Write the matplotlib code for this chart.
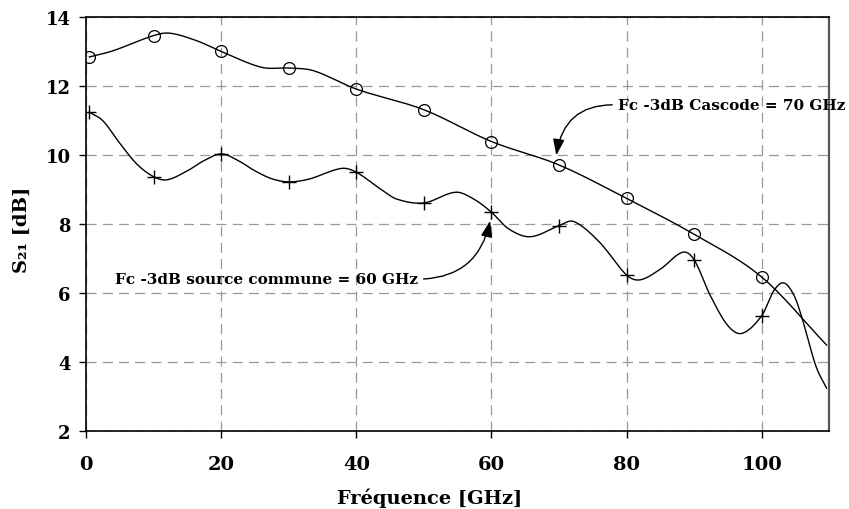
import numpy as np
import matplotlib
matplotlib.use("Agg")
import matplotlib.pyplot as plt

# ---- data ----
# Cascode: curve readings and marker points
freq_cascode_line = [0.5, 4.0, 10, 12.4, 16.4, 20, 26, 30, 33.7, 40, 50, 60,
                     70, 80, 90, 100, 109.6]
s21_cascode_line = [12.85, 13.03, 13.47, 13.54, 13.32, 13.01, 12.55, 12.53, 12.45, 11.92,
                    11.32, 10.40, 9.72, 8.75, 7.71, 6.47, 4.50]
freq_cascode_markers = [0.5, 10, 20, 30, 40, 50, 60, 70, 80, 90, 100]
s21_cascode_markers = [12.85, 13.47, 13.01, 12.53, 11.92, 11.32, 10.40, 9.72, 8.75, 7.71, 6.47]

# Source commune: curve readings and marker points
freq_sc_line = [0.5, 2.5, 5, 7.5, 10, 12, 15, 17.5, 20, 22.5, 25, 27.5, 30, 33, 37.8,
                40, 43.6, 46, 50, 54.7, 57.4, 60, 62.6, 65.8, 70, 72.2,
                76, 80, 82, 85, 88.3, 90, 92.4, 95, 97.1, 100, 101.8, 103.3,
                104.8, 106.0, 108.0, 109.6]
s21_sc_line = [11.25, 11.0, 10.35, 9.75, 9.38, 9.29, 9.55, 9.85, 10.04, 9.85, 9.55, 9.32,
               9.23, 9.31, 9.62, 9.51, 9.02, 8.73, 8.62, 8.93, 8.73, 8.35, 7.86,
               7.64, 7.96, 8.08, 7.48, 6.53, 6.39, 6.70, 7.19, 6.97,
               5.93, 5.06, 4.84, 5.35, 6.08, 6.30, 5.93, 5.26, 3.90, 3.25]
freq_sc_markers = [0.5, 10, 20, 30, 40, 50, 60, 70, 80, 90, 100]
s21_sc_markers = [11.25, 9.38, 10.04, 9.23, 9.51, 8.62, 8.35, 7.96, 6.53, 6.97, 5.35]

x_ticks = [0, 20, 40, 60, 80, 100]
y_ticks = [2, 4, 6, 8, 10, 12, 14]

label_cascode = "Fc -3dB Cascode = 70 GHz"
label_sc = "Fc -3dB source commune = 60 GHz"


def smooth(x, y, n=25):
    """Cardinal (Catmull-Rom style) cubic Hermite curve through the points."""
    x = np.asarray(x, float)
    y = np.asarray(y, float)
    m = np.empty_like(y)
    m[1:-1] = (y[2:] - y[:-2]) / (x[2:] - x[:-2])
    m[0] = (y[1] - y[0]) / (x[1] - x[0])
    m[-1] = (y[-1] - y[-2]) / (x[-1] - x[-2])
    xs, ys = [], []
    for i in range(len(x) - 1):
        h = x[i + 1] - x[i]
        t = np.linspace(0, 1, n, endpoint=False)
        h00 = 2 * t**3 - 3 * t**2 + 1
        h10 = t**3 - 2 * t**2 + t
        h01 = -2 * t**3 + 3 * t**2
        h11 = t**3 - t**2
        xs.append(x[i] + t * h)
        ys.append(h00 * y[i] + h10 * h * m[i] + h01 * y[i + 1] + h11 * h * m[i + 1])
    xs.append([x[-1]])
    ys.append([y[-1]])
    return np.concatenate(xs), np.concatenate(ys)


plt.rcParams['font.family'] = ['DejaVu Serif']
plt.rcParams['font.weight'] = 'bold'

fig = plt.figure(figsize=(8.49, 5.10), dpi=100)
ax = fig.add_axes([86 / 849, 1 - 432.3 / 510, (829.3 - 86) / 849, (432.3 - 18.3) / 510])

xc, yc = smooth(freq_cascode_line, s21_cascode_line)
ax.plot(xc, yc, color='black', lw=1.0, zorder=3)
ax.plot(freq_cascode_markers, s21_cascode_markers, linestyle='none', marker='o',
        markersize=8.5, markerfacecolor='none', markeredgecolor='black',
        markeredgewidth=0.9, zorder=4)

xs, ys = smooth(freq_sc_line, s21_sc_line, n=20)
ax.plot(xs, ys, color='black', lw=1.0, zorder=3)
ax.plot(freq_sc_markers, s21_sc_markers, linestyle='none', marker='+',
        markersize=10, markeredgecolor='black', markeredgewidth=1.0, zorder=4)

ax.set_xlim(0, 110)
ax.set_ylim(2, 14)
ax.set_xticks(x_ticks)
ax.set_yticks(y_ticks)
ax.tick_params(axis='x', direction='out', length=5, width=1, labelsize=14, pad=12)
ax.tick_params(axis='y', direction='out', length=5, width=1, labelsize=13, pad=6)
for lab in ax.get_xticklabels() + ax.get_yticklabels():
    lab.set_fontweight('bold')

ax.grid(True, color='#9a9a9a', linestyle=(0, (8, 5)), linewidth=0.9)
ax.set_axisbelow(True)

for s in ['left', 'bottom', 'top']:
    ax.spines[s].set_color('black')
    ax.spines[s].set_linewidth(1.2)
ax.spines['right'].set_color('#555555')
ax.spines['right'].set_linewidth(1.6)

ax.set_xlabel("Fréquence [GHz]", fontsize=14, fontweight='bold')
ax.xaxis.label.set_va('center')
ax.xaxis.set_label_coords((430 - 86) / 743.3, -(498 - 432.3) / 414)
ax.set_ylabel("S₂₁ [dB]", fontsize=14, fontweight='bold')
ax.yaxis.label.set_va('center')
ax.yaxis.set_label_coords(-(86 - 22) / 743.3, 0.49)

arrow_kw = dict(arrowstyle='-|>,head_length=0.7,head_width=0.25', color='black',
                lw=1.0, shrinkA=2, shrinkB=0, mutation_scale=14)

ax.annotate(label_cascode, xy=(69.6, 10.0), xytext=(78.7, 11.46),
            fontsize=11, fontweight='bold', ha='left', va='center',
            annotation_clip=False,
            arrowprops=dict(connectionstyle='arc3,rad=0.45', relpos=(0, 0.5), **arrow_kw))

ax.annotate(label_sc, xy=(59.8, 8.1), xytext=(4.3, 6.41),
            fontsize=11, fontweight='bold', ha='left', va='center',
            arrowprops=dict(connectionstyle='arc3,rad=0.4', relpos=(1, 0.5), **arrow_kw))

fig.savefig("out.png", dpi=100)
